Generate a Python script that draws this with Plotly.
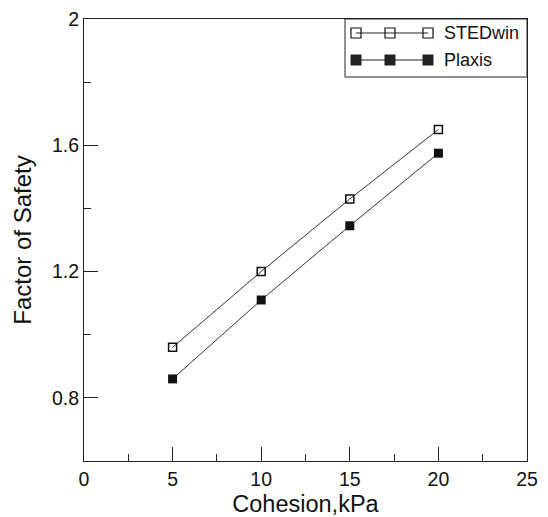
import plotly.graph_objects as go

cohesion = [5, 10, 15, 20]
stedwin = [0.96, 1.20, 1.43, 1.65]
plaxis = [0.86, 1.11, 1.345, 1.575]
series_names = ["STEDwin", "Plaxis"]
y_tickvals = [0.8, 1.2, 1.6, 2.0]
y_ticktext = ["0.8", "1.2", "1.6", "2"]
x_tickvals = [0, 5, 10, 15, 20, 25]

FONT = "Liberation Sans, Arial, sans-serif"
W, H = 548, 517
L, R, T, B = 84, 21, 19, 56
PW, PH = W - L - R, H - T - B

def px(xp):
    return (xp - L) / PW

def py(yp):
    return (H - B - yp) / PH

fig = go.Figure()
fig.add_trace(go.Scatter(
    x=cohesion, y=stedwin, mode="lines+markers", name=series_names[0],
    line=dict(color="#333333", width=1),
    marker=dict(symbol="square-open", size=8, color="#111111", line=dict(width=1.5, color="#111111")),
    showlegend=False))
fig.add_trace(go.Scatter(
    x=cohesion, y=plaxis, mode="lines+markers", name=series_names[1],
    line=dict(color="#333333", width=1),
    marker=dict(symbol="square", size=9, color="#111111"),
    showlegend=False))

axis_common = dict(
    showline=True, linecolor="#222222", linewidth=1.2, mirror=True,
    ticks="inside", ticklen=14, tickcolor="#222222", tickwidth=1,
    showgrid=False, zeroline=False,
    tickfont=dict(family=FONT, size=19.5, color="#111111"),
)

fig.update_xaxes(
    range=[0, 25], tickvals=x_tickvals,
    minor=dict(dtick=2.5, tick0=0, ticks="inside", ticklen=7, tickcolor="#222222", showgrid=False),
    title=dict(text="Cohesion,kPa", font=dict(family=FONT, size=23.5, color="#111111"), standoff=7),
    **axis_common)
fig.update_yaxes(
    range=[0.6, 2.0], tickvals=y_tickvals, ticktext=y_ticktext,
    minor=dict(dtick=0.2, tick0=0.6, ticks="inside", ticklen=7, tickcolor="#222222", showgrid=False),
    title=dict(text="Factor of Safety", font=dict(family=FONT, size=24, color="#111111"), standoff=13),
    **axis_common)

# manual legend (three markers per entry, as in the reference)
shapes = [dict(type="rect", xref="paper", yref="paper",
               x0=px(345), x1=1.0, y0=py(77), y1=1.0,
               line=dict(color="#222222", width=1), fillcolor="white", layer="above")]
annotations = []
entries = [(33, "open", series_names[0]), (60, "filled", series_names[1])]
marker_x = [356, 390, 428]
for ypix, kind, label in entries:
    shapes.append(dict(type="line", xref="paper", yref="paper",
                       x0=px(marker_x[0]), x1=px(marker_x[-1]), y0=py(ypix), y1=py(ypix),
                       line=dict(color="#222222", width=1), layer="above"))
    for mx in marker_x:
        if kind == "open":
            shapes.append(dict(type="rect", xref="paper", yref="paper",
                               xsizemode="pixel", ysizemode="pixel",
                               xanchor=px(mx), yanchor=py(ypix),
                               x0=-5, x1=5, y0=-5, y1=5,
                               line=dict(color="#111111", width=1.2), fillcolor="rgba(0,0,0,0)", layer="above"))
        else:
            shapes.append(dict(type="rect", xref="paper", yref="paper",
                               xsizemode="pixel", ysizemode="pixel",
                               xanchor=px(mx), yanchor=py(ypix),
                               x0=-5.5, x1=5.5, y0=-5.5, y1=5.5,
                               line=dict(color="#222222", width=0), fillcolor="#222222", layer="above"))
    annotations.append(dict(xref="paper", yref="paper", x=px(442), y=py(ypix),
                            xanchor="left", yanchor="middle", showarrow=False, text=label,
                            font=dict(family=FONT, size=18, color="#111111")))

fig.update_layout(
    width=W, height=H,
    margin=dict(l=L, r=R, t=T, b=B, autoexpand=False),
    paper_bgcolor="white", plot_bgcolor="white",
    shapes=shapes, annotations=annotations, showlegend=False,
)
fig.write_html("out.html", config={"displayModeBar": False},
               post_script="document.body.style.margin='0';document.body.style.overflow='hidden';")
